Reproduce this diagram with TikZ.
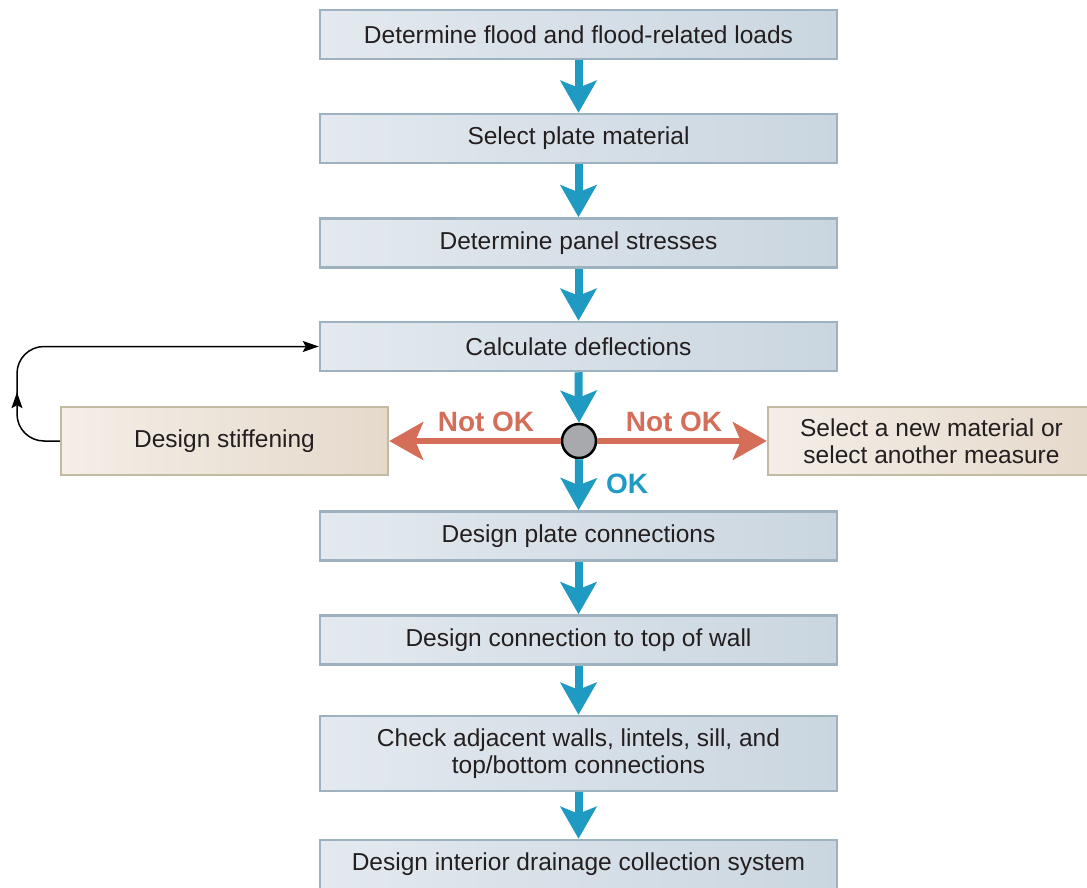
\documentclass[tikz,border=0pt]{standalone}
\usepackage{fontspec}
\setmainfont{Liberation Sans}
\usetikzlibrary{arrows.meta,decorations.markings}
\definecolor{bluebox1}{HTML}{E3E9EF}
\definecolor{bluebox2}{HTML}{CAD6DF}
\definecolor{blueedge}{HTML}{9EB1BF}
\definecolor{beige1}{HTML}{F4EEE7}
\definecolor{beige2}{HTML}{E5D9CB}
\definecolor{beigeedge}{HTML}{C3BBA1}
\definecolor{flowblue}{HTML}{1F9BC3}
\definecolor{flowred}{HTML}{D46E58}
\definecolor{txt}{HTML}{231F20}
\definecolor{dotgray}{HTML}{A8A9AC}
\tikzset{
  x=1pt, y=1pt,
  stepbox/.style={draw=blueedge, line width=2.5pt, left color=bluebox1, right color=bluebox2,
    minimum width=517pt, minimum height=49pt, inner sep=0pt, align=center,
    font=\fontsize{24.5}{27}\selectfont, text=txt},
  altbox/.style={draw=beigeedge, line width=2.5pt, left color=beige1, right color=beige2,
    minimum width=327pt, minimum height=68pt, inner sep=0pt, align=center,
    font=\fontsize{24.5}{27}\selectfont, text=txt},
  bluearrow/.style={draw=flowblue, line width=8pt, -{Stealth[length=32pt,width=36pt,inset=7pt]}},
  redarrow/.style={draw=flowred, line width=5.5pt, -{Stealth[length=34pt,width=38pt,inset=8pt]}},
  lbl/.style={font=\fontsize{28}{32}\selectfont\bfseries, inner sep=0pt},
  fb/.style={draw=black, line width=1.5pt, rounded corners=27pt, -{Stealth[length=16pt,width=11pt,inset=3pt]},
    postaction={decorate, decoration={markings, mark=at position 80pt with {\arrow{Stealth[length=16pt,width=11pt,inset=3pt]}}}}},
}
\begin{document}
\begin{tikzpicture}
\useasboundingbox (0,0) rectangle (1087,-888);
\node[stepbox] (b1) at (578.5,-34.5) {Determine flood and flood-related loads};
\node[stepbox] (b2) at (578.5,-138.5) {Select plate material};
\node[stepbox] (b3) at (578.5,-243) {Determine panel stresses};
\node[stepbox] (b4) at (578.5,-346.5) {Calculate deflections};
\node[stepbox] (b5) at (578.5,-536) {Design plate connections};
\node[stepbox] (b6) at (578.5,-640) {Design connection to top of wall};
\node[stepbox, minimum height=75pt] (b7) at (578.5,-753.5) {Check adjacent walls, lintels, sill, and\\top/bottom connections};
\node[stepbox] (b8) at (578.5,-864.5) {Design interior drainage collection system};
\node[altbox] (stiff) at (224.5,-441) {Design stiffening};
\node[altbox] (newmat) at (931.5,-441) {Select a new material or\\select another measure};
\node[circle, draw=black, fill=dotgray, line width=2.5pt, minimum size=34pt, inner sep=0pt] (dec) at (579,-441) {};
\coordinate (corner) at (17,-441);
\draw[bluearrow] (b1.south) -- (b2.north);
\draw[bluearrow] (b2.south) -- (b3.north);
\draw[bluearrow] (b3.south) -- (b4.north);
\draw[bluearrow] (b4.south) -- (dec.north);
\draw[bluearrow] (dec.south) -- (b5.north);
\draw[bluearrow] (b5.south) -- (b6.north);
\draw[bluearrow] (b6.south) -- (b7.north);
\draw[bluearrow] (b7.south) -- (b8.north);
\draw[redarrow] (dec.west) -- (stiff.east);
\draw[redarrow] (dec.east) -- (newmat.west);
\node[lbl, text=flowred] (nok1) at (486,-422) {Not OK};
\node[lbl, text=flowred] (nok2) at (674,-422) {Not OK};
\node[lbl, text=flowblue] (ok) at (627,-484) {OK};
\draw[fb] (stiff.west) -- (corner) |- (b4.west);
\end{tikzpicture}
\end{document}
